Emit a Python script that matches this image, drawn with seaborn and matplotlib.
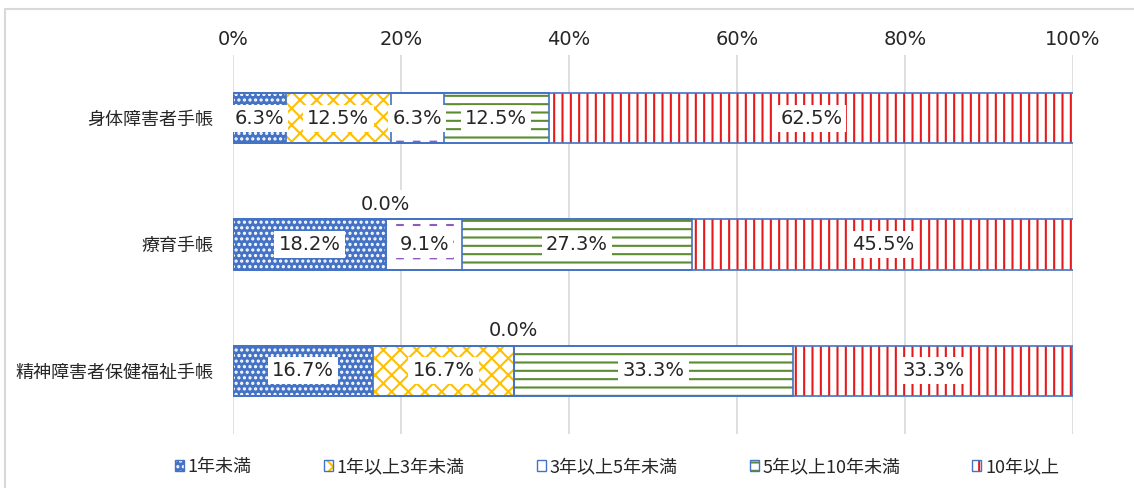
import numpy as np
import matplotlib.pyplot as plt
from matplotlib.patches import Patch, Rectangle
import pandas as pd
import seaborn as sb

# data (percent)
categories = ["身体障害者手帳", "療育手帳", "精神障害者保健福祉手帳"]
series_names = ["1年未満", "1年以上3年未満", "3年以上5年未満", "5年以上10年未満", "10年以上"]
under_1 = [6.3, 18.2, 16.7]
from_1_to_3 = [12.5, 0.0, 16.7]
from_3_to_5 = [6.3, 9.1, 0.0]
from_5_to_10 = [12.5, 27.3, 33.3]
over_10 = [62.5, 45.5, 33.3]
tick_values = [0, 20, 40, 60, 80, 100]
tick_labels = ["0%", "20%", "40%", "60%", "80%", "100%"]

# look of each series: (face colour, hatch colour, hatch)
styles = [
    ("#4472C4", "white", "..."),
    ("white", "#FFC000", "xx"),
    ("white", "#8E5CC0", "-"),
    ("white", "#5B8C32", "--"),
    ("white", "#E31A1C", "||"),
]
dashed_series = 2
outline = "#4472C4"
text_color = "#262626"
num_font = ["DejaVu Sans"]

df = pd.DataFrame({"category": categories})
for name, vals in zip(series_names, [under_1, from_1_to_3, from_3_to_5, from_5_to_10, over_10]):
    df[name] = vals
cum = df[series_names].cumsum(axis=1)
cum.insert(0, "category", categories)

sb.set_theme(style="white")
plt.rcParams['font.family'] = ['Noto Sans CJK JP', 'DejaVu Sans']
plt.rcParams['hatch.linewidth'] = 1.5

fig = plt.figure(figsize=(11.34, 4.88), dpi=100)
ax = fig.add_axes([233 / 1134, 54 / 488, 840 / 1134, 379 / 488])

# stacked bars: draw cumulative totals from the longest to the shortest
for k in reversed(range(len(series_names))):
    face, hcol, hatch = styles[k]
    n0 = len(ax.patches)
    sb.barplot(data=cum, x=series_names[k], y="category", orient="h",
               width=0.4, errorbar=None, ax=ax)
    for p in ax.patches[n0:]:
        p.set_facecolor(face)
        p.set_edgecolor(hcol)
        p.set_hatch(hatch)
        p.set_linewidth(0)
    if k == dashed_series:
        # white vertical strokes over the purple lines so they read as dashes
        n1 = len(ax.patches)
        sb.barplot(data=cum, x=series_names[k], y="category", orient="h",
                   width=0.4, errorbar=None, ax=ax)
        for p in ax.patches[n1:]:
            p.set_facecolor("none")
            p.set_edgecolor("white")
            p.set_hatch("|")
            p.set_linewidth(0)
            if hasattr(p, "set_hatch_linewidth"):
                p.set_hatch_linewidth(6.5)

# blue segment outlines
for k in range(len(series_names)):
    n0 = len(ax.patches)
    sb.barplot(data=cum, x=series_names[k], y="category", orient="h",
               width=0.4, errorbar=None, ax=ax)
    for p in ax.patches[n0:]:
        p.set_facecolor("none")
        p.set_edgecolor(outline)
        p.set_linewidth(1.2)

# value labels
for i in range(len(categories)):
    left = 0.0
    for name in series_names:
        v = df.loc[i, name]
        if v > 0:
            x, y = left + v / 2, i
        else:
            x, y = left, i - 0.32
        ax.text(x, y, f"{v:.1f}%", ha="center", va="center", fontsize=14,
                family=num_font, color=text_color, zorder=5,
                bbox=dict(facecolor="white", edgecolor="none", pad=3))
        left += v

ax.set_xlim(0, 100)
ax.set_ylim(2.5, -0.5)
ax.set_xticks(tick_values)
ax.set_xticklabels(tick_labels, fontsize=14, color=text_color, family=num_font)
ax.xaxis.tick_top()
ax.tick_params(axis="x", length=0, pad=4)
ax.tick_params(axis="y", length=0, pad=14, labelsize=13, labelcolor=text_color)
ax.set_xlabel("")
ax.set_ylabel("")
ax.grid(axis="x", color="#D9D9D9", linewidth=1.2)
ax.grid(axis="y", visible=False)
ax.set_axisbelow(True)
for s in ax.spines.values():
    s.set_visible(False)

# legend with small patterned squares
handles = []
for face, hcol, hatch in styles:
    handles.append((Patch(facecolor=face, edgecolor=hcol, hatch=hatch, linewidth=0),
                    Patch(facecolor="none", edgecolor=outline, linewidth=1)))
fig.legend(handles, series_names, ncol=5, loc="center",
           bbox_to_anchor=(617 / 1134, 21 / 488), frameon=False,
           fontsize=13, handlelength=0.5, handleheight=0.5,
           handletextpad=0.2, columnspacing=4, labelcolor=text_color)

# chart area border
fig.patches.append(Rectangle((5 / 1134, -0.05), 1.5, 1 - 9 / 488 + 0.05,
                             transform=fig.transFigure, fill=False,
                             edgecolor="#D9D9D9", linewidth=1.5))

fig.savefig("out.png", dpi=100)
